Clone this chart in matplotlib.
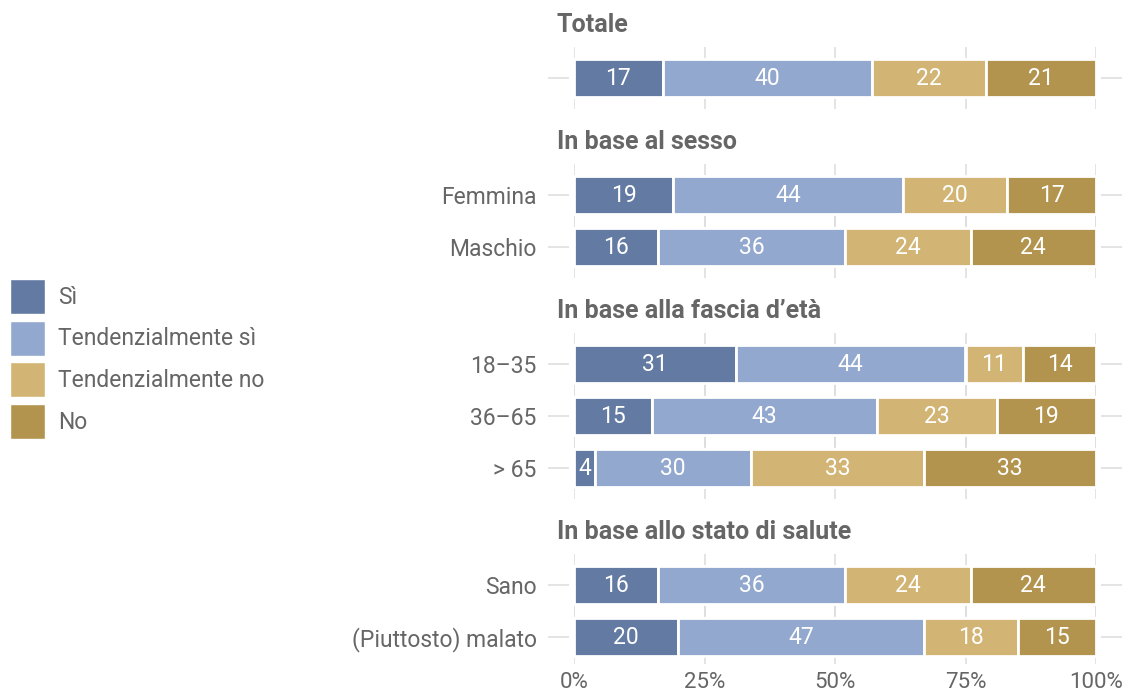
import matplotlib
matplotlib.use("Agg")
import matplotlib.pyplot as plt
from matplotlib.patches import Patch

plt.rcParams['font.family'] = ['Roboto', 'DejaVu Sans']

categories = ["Sì", "Tendenzialmente sì", "Tendenzialmente no", "No"]
colors = ["#637ba3", "#93a8cf", "#d2b574", "#b3944e"]

groups = ["Totale", "In base al sesso", "In base alla fascia d’età", "In base allo stato di salute"]
group_rows = [
    [""],
    ["Femmina", "Maschio"],
    ["18–35", "36–65", "> 65"],
    ["Sano", "(Piuttosto) malato"],
]
si = [17, 19, 16, 31, 15, 4, 16, 20]
tend_si = [40, 44, 36, 44, 43, 30, 36, 47]
tend_no = [22, 20, 24, 11, 23, 33, 24, 18]
no = [21, 17, 24, 14, 19, 33, 24, 15]
series = [si, tend_si, tend_no, no]

xticks = [0, 25, 50, 75, 100]
xticklabels = ["0%", "25%", "50%", "75%", "100%"]

# vertical layout: header, then bar rows; spacing in row units
header_to_bar = 1.02
bar_to_bar = 1.0
bar_to_header = 1.23

header_pos = []
row_pos = []
row_labels = []
y = 0.0
for gi, rows in enumerate(group_rows):
    if gi > 0:
        y += bar_to_header
    header_pos.append(y)
    y += header_to_bar
    for ri, lab in enumerate(rows):
        if ri > 0:
            y += bar_to_bar
        row_pos.append(y)
        row_labels.append(lab)

fig = plt.figure(figsize=(11.28, 6.98), dpi=100)
W, H = 1128, 698
x0, x1 = 574, 1096
top_px, bot_px = 0, 664
ax = fig.add_axes([x0 / W, 1 - bot_px / H, (x1 - x0) / W, (bot_px - top_px) / H])
unit = 52.0
ax.set_xlim(0, 100)
ax.set_ylim((bot_px - 25) / unit, (top_px - 25) / unit)
for s in ax.spines.values():
    s.set_visible(False)

grid_c = "#dddddd"
text_c = "#666666"
fs = 16.5
bar_h = 0.74
for yp in row_pos:
    ax.vlines(xticks, yp - 0.6, yp + 0.6, color=grid_c, lw=1.1, zorder=0)
    ax.hlines(yp, -5, -1, color=grid_c, lw=1.1, zorder=0, clip_on=False)
    ax.hlines(yp, 101, 105, color=grid_c, lw=1.1, zorder=0, clip_on=False)

left = [0.0] * len(row_pos)
for vals, col in zip(series, colors):
    bars = ax.barh(row_pos, vals, left=left, height=bar_h, color=col,
                   edgecolor="white", linewidth=2.0, zorder=2)
    for b, v, l, yp in zip(bars, vals, left, row_pos):
        ax.text(l + v / 2, yp, str(v), ha="center", va="center",
                color="white", fontsize=fs, zorder=3)
    left = [l + v for l, v in zip(left, vals)]

for g, hp in zip(groups, header_pos):
    ax.text(-3.3, hp, g, ha="left", va="center", fontsize=18,
            fontweight="bold", color=text_c, clip_on=False)

ax.set_yticks(row_pos)
ax.set_yticklabels(row_labels, fontsize=fs, color=text_c)
ax.tick_params(axis="y", length=0, pad=27)
ax.set_xticks(xticks)
ax.set_xticklabels(xticklabels, fontsize=16, color=text_c)
ax.tick_params(axis="x", length=0, pad=6)

handles = [Patch(facecolor=c, edgecolor="white", label=l) for c, l in zip(colors, categories)]
fig.legend(handles=handles, loc="center left", bbox_to_anchor=(10 / W, 1 - 359 / H),
           frameon=False, fontsize=fs, handlelength=1.53, handleheight=1.97,
           labelspacing=0.3, handletextpad=0.55, borderpad=0, borderaxespad=0,
           labelcolor=text_c)

fig.savefig("out.png", dpi=100)
